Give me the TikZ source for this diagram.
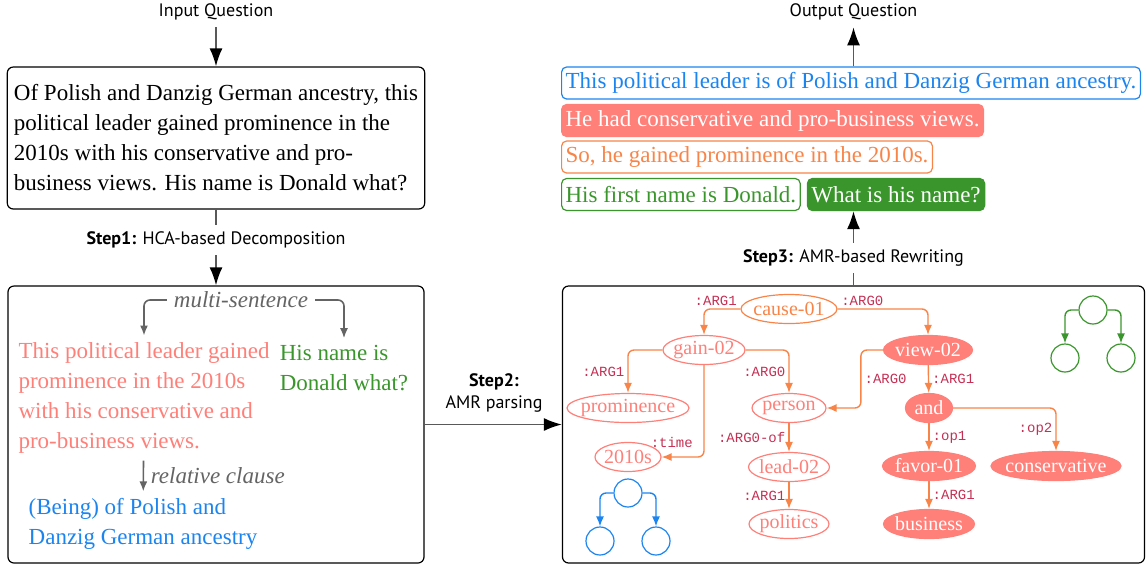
\documentclass[tikz,border=0pt]{standalone}
\usepackage{fontspec}
\setmainfont{Liberation Serif}
\setsansfont{PT Sans}
\setmonofont{Liberation Mono}
\usetikzlibrary{arrows.meta}
\usetikzlibrary{positioning}
\usetikzlibrary{shapes.geometric}

\definecolor{amrred}{RGB}{255,127,121}
\definecolor{amrorange}{RGB}{248,132,72}
\definecolor{qblue}{RGB}{28,132,238}
\definecolor{qgreen}{RGB}{58,150,44}
\definecolor{rolered}{RGB}{196,48,84}
\definecolor{cuegray}{RGB}{100,100,100}

\begin{document}
\begin{tikzpicture}[x=0.5pt,y=-0.5pt,
  every node/.style={font=\fontsize{11.5}{15}\selectfont},
  box/.style={draw, rounded corners=3pt, line width=0.6pt},
  tag/.style={font=\sffamily\fontsize{9}{11}\selectfont},
  link/.style={draw=black!65, line width=0.9pt},
  flow/.style={link, -{Latex[black,length=9pt,width=6.5pt]}},
  cue/.style={font=\itshape\fontsize{11.5}{14}\selectfont, text=cuegray},
  cuearrow/.style={draw=cuegray, line width=0.8pt, rounded corners=3pt, -{Latex[length=5pt,width=4pt]}},
  sent/.style={draw, rounded corners=2.5pt, line width=0.6pt, anchor=west, minimum height=16pt, inner xsep=2pt, inner ysep=0pt},
  amr/.style={ellipse, draw=amrred, text=amrred, line width=0.6pt, inner xsep=-8pt, inner ysep=-3pt, minimum height=14.5pt, font=\fontsize{10}{12}\selectfont},
  amrf/.style={amr, fill=amrred, text=white},
  rel/.style={draw=amrorange, line width=0.7pt, rounded corners=3pt, -{Latex[length=5pt,width=4pt]}},
  role/.style={font=\ttfamily\fontsize{7}{8}\selectfont, text=rolered, inner sep=1.5pt},
  dot/.style={circle, draw, line width=0.6pt, minimum size=14pt, inner sep=0pt},
  tree/.style={line width=0.7pt, rounded corners=3pt, -{Latex[length=5pt,width=4pt]}},
]
\useasboundingbox (0,0) rectangle (1146,564);

% input and decomposition
\node[tag] (inq) at (216,12) {Input Question};
\node[box, align=left, minimum width=208pt, minimum height=71pt] (orig) at (216,138) {Of Polish and Danzig German ancestry, this\\political leader gained prominence in the\\2010s with his conservative and pro-\\business views. His name is Donald what?};
\node[tag] (step1) at (216,240) {\textbf{Step1:} HCA-based Decomposition};
\node[box, minimum width=208pt, minimum height=138.5pt] (decomp) at (216,424.5) {};
\draw[flow] (inq) -- (orig);
\draw[link] (orig) -- (step1);
\draw[flow] (step1) -- (decomp);

\node[cue] (multi) at (241,300) {multi-sentence};
\node[align=left, text=amrred] (partA) at (144,398) {This political leader gained\\prominence in the 2010s\\with his conservative and\\pro-business views.};
\node[align=left, text=qgreen] (partB) at (344,368) {His name is\\Donald what?};
\node[align=left, text=qblue] (partC) at (143,524) {(Being) of Polish and\\Danzig German ancestry};
\draw[cuearrow] (multi.west) -| (partA.north);
\draw[cuearrow] (multi.east) -| (partB.north);
\draw[cuearrow] (partA) -- (partC) node[cue, midway, right] {relative clause};

% parsing
\node[tag, align=center] (step2) at (494,393) {\textbf{Step2:}\\AMR parsing};
\node[box, minimum width=291pt, minimum height=138.5pt] (parse) at (853.5,424.5) {};
\draw[flow] (decomp) -- (parse);

\node[amr, draw=amrorange, text=amrorange, minimum width=48pt] (cause) at (789,309) {cause-01};
\node[amr, minimum width=41pt] (gain) at (704,350) {gain-02};
\node[amrf, minimum width=44.5pt] (view) at (928,350) {view-02};
\node[amr, minimum width=61pt] (prom) at (628,408) {prominence};
\node[amr, minimum width=37pt] (person) at (789,408) {person};
\node[amrf, minimum width=23.5pt] (and) at (929,408) {and};
\node[amr, minimum width=33pt] (decade) at (628,457) {2010s};
\node[amr, minimum width=40.5pt] (lead) at (789,467) {lead-02};
\node[amrf, minimum width=46.5pt] (favor) at (929,466) {favor-01};
\node[amrf, minimum width=65pt] (cons) at (1056,466) {conservative};
\node[amr, minimum width=40pt] (politics) at (789,524) {politics};
\node[amrf, minimum width=45.5pt] (biz) at (929,524) {business};

\draw[rel] (cause.west) -| (gain.north) node[role, pos=0, above left] {:ARG1};
\draw[rel] (cause.east) -| (view.north) node[role, pos=0, above right] {:ARG0};
\draw[rel] (gain.west) -| (prom.north) node[role, pos=0.75, left] {:ARG1};
\draw[rel] (gain.east) -| (person.north) node[role, pos=0.75, left] {:ARG0};
\draw[rel] (gain.south) |- (decade.east) node[role, pos=0.88, above=3pt] {:time};
\draw[rel] (person) -- (lead) node[role, midway, left] {:ARG0-of};
\draw[rel] (lead) -- (politics) node[role, midway, left] {:ARG1};
\draw[rel] (view.west) -- ++(-22,0) |- (person.east) node[role, pos=0.25, right] {:ARG0};
\draw[rel] (view) -- (and) node[role, midway, right] {:ARG1};
\draw[rel] (and) -- (favor) node[role, midway, right] {:op1};
\draw[rel] (and.east) -| (cons.north) node[role, pos=0.75, left] {:op2};
\draw[rel] (favor) -- (biz) node[role, midway, right] {:ARG1};

\node[dot, draw=qgreen] (g0) at (1093,310) {};
\node[dot, draw=qgreen] (g1) at (1065,358) {};
\node[dot, draw=qgreen] (g2) at (1121,358) {};
\draw[tree, draw=qgreen] (g0.west) -| (g1.north);
\draw[tree, draw=qgreen] (g0.east) -| (g2.north);

\node[dot, draw=qblue] (b0) at (628,493) {};
\node[dot, draw=qblue] (b1) at (600,541) {};
\node[dot, draw=qblue] (b2) at (656,541) {};
\draw[tree, draw=qblue] (b0.west) -| (b1.north);
\draw[tree, draw=qblue] (b0.east) -| (b2.north);

% rewriting
\node[tag] (step3) at (853.5,258) {\textbf{Step3:} AMR-based Rewriting};
\node[sent, draw=qblue, text=qblue] (q1) at (561,83) {This political leader is of Polish and Danzig German ancestry.};
\node[sent, draw=amrred, fill=amrred, text=white] (q2) at (561,120.5) {He had conservative and pro-business views.};
\node[sent, draw=amrorange, text=amrorange] (q3) at (561,157) {So, he gained prominence in the 2010s.};
\node[sent, draw=qgreen, text=qgreen] (q4) at (561,194.5) {His first name is Donald.};
\node[sent, draw=qgreen, fill=qgreen, text=white, right=3pt of q4] (q5) {What is his name?};
\node[tag] (outq) at (853.5,12) {Output Question};
\draw[link] (parse) -- (step3);
\draw[flow] (step3) -- (step3 |- q5.south);
\draw[flow] (q1.north -| step3) -- (outq);
\end{tikzpicture}
\end{document}
